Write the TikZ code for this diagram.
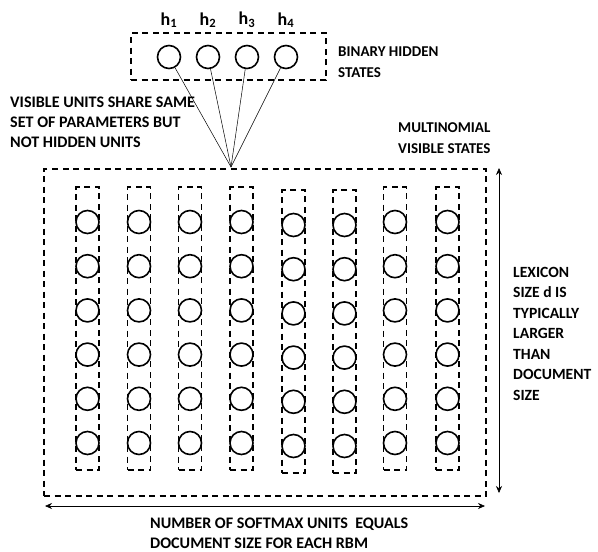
\documentclass[tikz,border=0pt]{standalone}
\usepackage{fontspec}
\setmainfont{Carlito}
\usetikzlibrary{arrows.meta}
\begin{document}
\begin{tikzpicture}[x=1pt,y=-1pt,
  dbox/.style={draw, line width=1.7pt, dash pattern=on 6pt off 4.5pt, inner sep=0pt},
  unit/.style={draw, circle, line width=1.6pt, minimum size=23pt, inner sep=0pt},
  lbl/.style={font=\fontsize{15}{20.5}\selectfont\bfseries, align=left, anchor=west, inner sep=0pt},
  biglbl/.style={lbl, font=\fontsize{16.1}{20}\selectfont\bfseries},
  hl/.style={font=\fontsize{18}{20}\selectfont\bfseries, inner sep=0pt},
  conn/.style={line width=0.5pt},
  dimarrow/.style={line width=0.6pt, {Stealth[length=7pt,width=6pt]}-{Stealth[length=7pt,width=6pt]}}]
\useasboundingbox (0,0) rectangle (598,552);
% hidden layer
\node[dbox, minimum width=195pt, minimum height=47pt] (hbox) at (228.5,56.5) {};
\foreach \i/\x in {1/169,2/208,3/247,4/286}{
  \node[unit] (h\i) at (\x,57) {};
  \node[hl] (hl\i) at (\x,20) {h\textsubscript{\i}};
}
\coordinate (conv) at (231,167);
\foreach \i in {1,...,4}{ \draw[conn] (h\i) -- (conv); }
\node[lbl] (bin) at (338,62) {BINARY HIDDEN\\STATES};
\node[biglbl] (share) at (10,122) {VISIBLE UNITS SHARE SAME\\SET OF PARAMETERS BUT\\NOT HIDDEN UNITS};
\node[lbl] (multi) at (398,138) {MULTINOMIAL\\VISIBLE STATES};
% visible layer
\node[dbox, minimum width=442pt, minimum height=327pt] (vbox) at (265,332.5) {};
\foreach \c/\x/\dy in {1/87.5/0,2/139/0,3/190/0,4/241.5/0,5/293.5/3,6/344.5/3,7/395/0,8/447.5/0}{
  \node[dbox, minimum width=23pt, minimum height=283pt] (col\c) at (\x,328.5+\dy) {};
  \foreach \r in {0,...,5}{
    \node[unit] (v\c-\r) at (\x,222+\dy+44.2*\r) {};
  }
}
% dimension arrows
\coordinate (vt) at (499,168);
\coordinate (vb) at (499,493);
\draw[dimarrow] (vt) -- (vb);
\coordinate (hlft) at (45,506);
\coordinate (hrgt) at (485,506);
\draw[dimarrow] (hlft) -- (hrgt);
\node[lbl, font=\fontsize{15.6}{20.5}\selectfont\bfseries] (lex) at (513,333.5) {LEXICON\\SIZE d IS\\TYPICALLY\\LARGER\\THAN\\DOCUMENT\\SIZE};
\node[biglbl] (num) at (150,533) {NUMBER OF SOFTMAX UNITS\ \ EQUALS\\DOCUMENT SIZE FOR EACH RBM};
\end{tikzpicture}
\end{document}
